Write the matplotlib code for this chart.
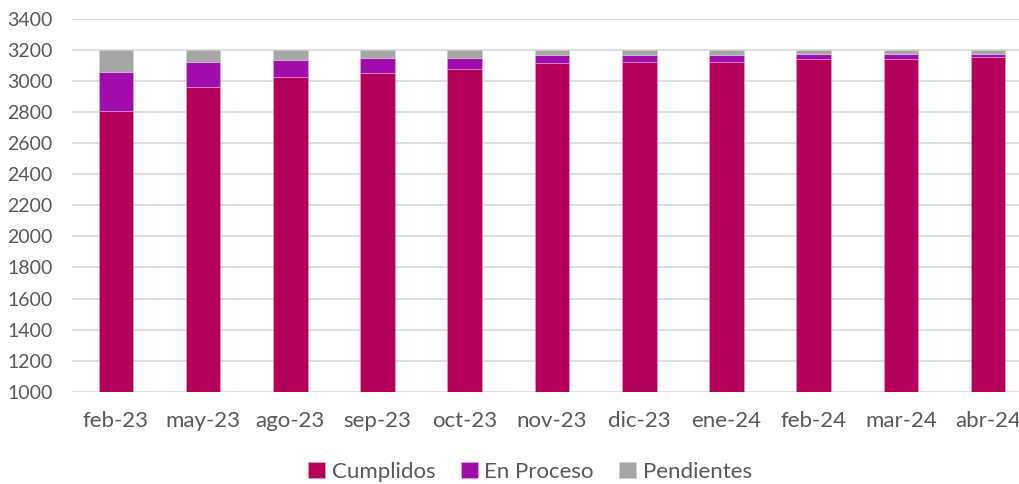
import matplotlib
matplotlib.use("Agg")
import matplotlib.pyplot as plt
import numpy as np

categories = ["feb-23", "may-23", "ago-23", "sep-23", "oct-23", "nov-23",
              "dic-23", "ene-24", "feb-24", "mar-24", "abr-24"]
cumplidos = [2806, 2963, 3024, 3050, 3075, 3114, 3121, 3120, 3140, 3145, 3155]
en_proceso = [250, 162, 114, 96, 75, 52, 49, 50, 36, 31, 22]
pendientes = [144, 75, 62, 54, 50, 34, 30, 30, 24, 24, 23]
yticks = list(range(1000, 3401, 200))

plt.rcParams['font.family'] = ['Lato', 'DejaVu Sans']
txt = '#595959'

fig = plt.figure(figsize=(10.2, 4.84), dpi=100)
ax = fig.add_axes([72/1020, 1-391.7/484, (1032-72)/1020, (391.7-19)/484])

x = np.arange(len(categories))
w = 0.397
c1, c2, c3 = '#B5005A', '#A10DAD', '#A6A6A6'
ax.bar(x, cumplidos, w, color=c1, edgecolor='#E8A0C8', linewidth=0.4, label='Cumplidos', zorder=3)
b1 = np.array(cumplidos)
ax.bar(x, en_proceso, w, bottom=b1, color=c2, edgecolor='#E8A0E8', linewidth=0.4, label='En Proceso', zorder=3)
b2 = b1 + np.array(en_proceso)
ax.bar(x, pendientes, w, bottom=b2, color=c3, edgecolor='#D0D0D0', linewidth=0.4, label='Pendientes', zorder=3)

ax.set_ylim(1000, 3400)
ax.set_xlim(-0.504, len(categories) - 0.496)
ax.set_yticks(yticks)
ax.set_yticklabels([str(v) for v in yticks])
ax.set_xticks(x)
ax.set_xticklabels(categories)
ax.yaxis.grid(True, color='#D9D9D9', linewidth=1.2, zorder=0)
ax.set_axisbelow(True)
for s in ax.spines.values():
    s.set_visible(False)
ax.tick_params(axis='both', length=0, colors=txt)
ax.tick_params(axis='y', pad=14, labelsize=14)
ax.tick_params(axis='x', pad=14, labelsize=16)

leg = fig.legend(loc='center', bbox_to_anchor=(530/1020, 1-472/484), ncol=3, frameon=False,
                 fontsize=16, handlelength=0.75, handleheight=0.75, handletextpad=0.3,
                 columnspacing=1.15, borderpad=0.0)
for t in leg.get_texts():
    t.set_color(txt)

fig.savefig('out.png', dpi=100)
